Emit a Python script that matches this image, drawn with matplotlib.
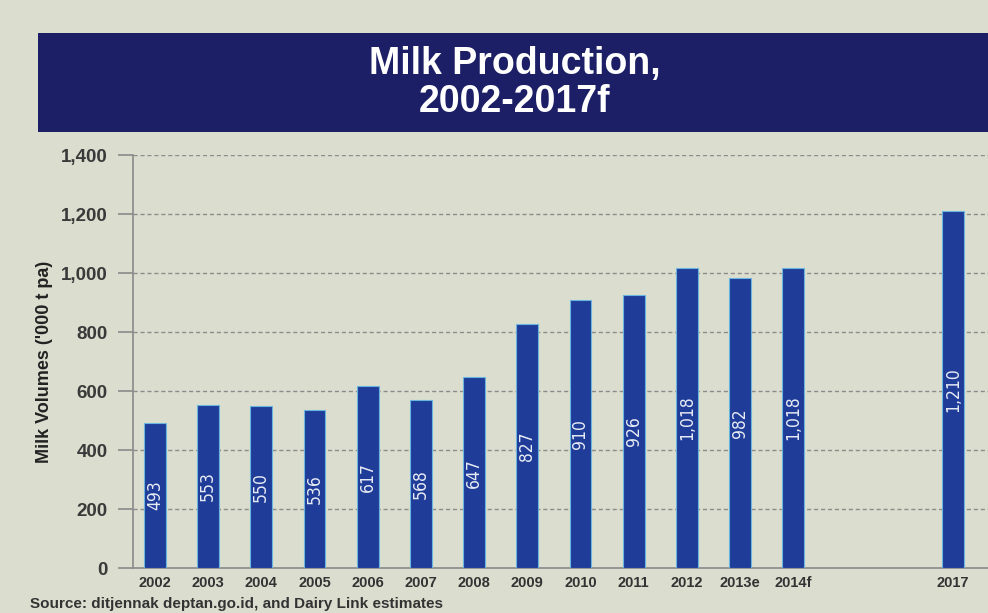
import numpy as np
from matplotlib import pyplot as plt
from matplotlib.patches import Rectangle

# dane (2015 i 2016 puste)
years = ['2002', '2003', '2004', '2005', '2006', '2007', '2008', '2009',
         '2010', '2011', '2012', '2013e', '2014f', '', '', '2017']
volumes = [493, 553, 550, 536, 617, 568, 647, 827,
           910, 926, 1018, 982, 1018, None, None, 1210]
value_labels = ['493', '553', '550', '536', '617', '568', '647', '827',
                '910', '926', '1,018', '982', '1,018', '', '', '1,210']
y_ticks = [0, 200, 400, 600, 800, 1000, 1200, 1400]

bg = '#dbdecf'
navy = '#1c1f66'
bar_col = '#1f3c98'

plt.rcParams['font.family'] = ['Liberation Sans', 'DejaVu Sans']

fig = plt.figure(figsize=(9.88, 6.13), dpi=100, facecolor=bg)

# pasek tytulu
fig.patches.append(Rectangle((0.0385, 0.785), 0.97, 0.1615, transform=fig.transFigure,
                             facecolor=navy, edgecolor='none', zorder=0))
fig.text(0.521, 0.896, 'Milk Production,', ha='center', va='center', color='white',
         fontsize=27, fontweight='bold')
fig.text(0.521, 0.833, '2002-2017f', ha='center', va='center', color='white',
         fontsize=27, fontweight='bold')

ax = fig.add_axes([0.1346, 0.0734, 0.8654, 0.6736])
ax.set_facecolor(bg)

x = np.arange(len(years))
for i, v in enumerate(volumes):
    if v is None:
        continue
    ax.bar(x[i], v, width=0.41, color=bar_col, edgecolor='#6ab4e0', linewidth=0.8, zorder=3)
    ax.text(x[i], v / 2, value_labels[i], rotation=90, ha='center', va='center',
            color='#e8ecf5', fontsize=12.5, family='DejaVu Sans', fontstretch='condensed',
            zorder=4)

ax.set_xlim(-0.41, 15.66)
ax.set_ylim(0, 1400)
ax.set_yticks(y_ticks)
ax.set_yticklabels(['{:,}'.format(t) for t in y_ticks], fontsize=13.5, fontweight='bold', color='#3a3a3a')
ax.set_xticks(x)
ax.set_xticklabels(years, fontsize=10.5, fontweight='bold', color='#333333')
ax.tick_params(axis='x', length=0, pad=6)
ax.tick_params(axis='y', length=11, width=1.2, color='#8a8a8a', pad=7)

ax.grid(axis='y', color='#8c8c8c', linestyle=(0, (3, 2)), linewidth=1.0, zorder=1)
for s in ['top', 'right']:
    ax.spines[s].set_visible(False)
ax.spines['left'].set_color('#8a8a8a')
ax.spines['left'].set_linewidth(1.2)
ax.spines['bottom'].set_color('#8a8a8a')
ax.spines['bottom'].set_linewidth(1.2)

ax.set_ylabel("Milk Volumes ('000 t pa)", fontsize=13, fontweight='bold', color='#222222', labelpad=6)

fig.text(0.03, 0.004, 'Source: ditjennak deptan.go.id, and Dairy Link estimates',
         fontsize=11, fontweight='bold', color='#333333', ha='left', va='bottom')

fig.savefig('out.png', dpi=100, facecolor=bg)
